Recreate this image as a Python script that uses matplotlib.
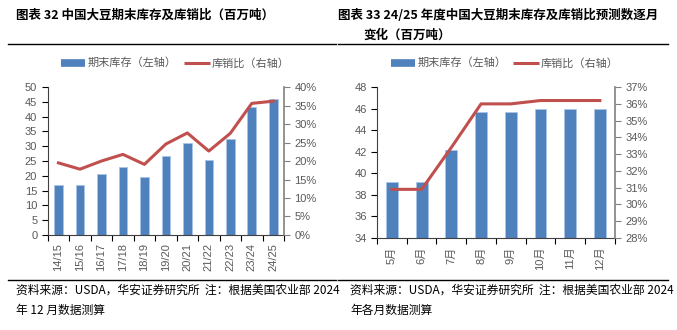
import numpy as np
import matplotlib
matplotlib.use('Agg')
import matplotlib.pyplot as plt
from matplotlib.lines import Line2D
from matplotlib.ticker import FuncFormatter

plt.rcParams['font.family'] = ['Liberation Sans', 'Noto Sans CJK SC', 'DejaVu Sans']

# 图表32：年度数据
years = ['14/15', '15/16', '16/17', '17/18', '18/19', '19/20', '20/21', '21/22', '22/23', '23/24', '24/25']
stock_year = [17.0, 16.9, 20.6, 23.0, 19.5, 26.8, 31.2, 25.2, 32.5, 43.4, 46.0]
ratio_year = [19.5, 17.8, 20.0, 21.8, 19.1, 24.6, 27.6, 22.7, 27.5, 35.6, 36.2]

# 图表33：24/25年度逐月预测
months = ['5月', '6月', '7月', '8月', '9月', '10月', '11月', '12月']
stock_month = [39.2, 39.2, 42.2, 45.7, 45.7, 46.0, 46.0, 46.0]
ratio_month = [30.9, 30.9, 33.4, 36.0, 36.0, 36.2, 36.2, 36.2]

bar_c = '#4F81BD'
line_c = '#C0504D'
gray = '#595959'
cjk = ['Noto Sans CJK SC', 'DejaVu Sans']

fig = plt.figure(figsize=(6.77, 3.30), dpi=100)


def draw(rect, cats, stock, ratio, ylim, ystep, rlim, rstep):
    ax = fig.add_axes(rect)
    x = np.arange(len(cats))
    ax.bar(x, stock, width=0.4, color=bar_c, edgecolor='#A9C4E6', linewidth=0.6, zorder=2)
    ax.set_xlim(-0.5, len(cats) - 0.5)
    ax.set_ylim(*ylim)
    ax.set_yticks(np.arange(ylim[0], ylim[1] + 0.01, ystep))
    ax.set_xticks(x)
    ax.set_xticklabels(cats, rotation=90, color=gray, fontsize=8)
    ax.set_xticks(np.arange(-0.5, len(cats)), minor=True)
    ax.tick_params(axis='x', which='major', length=0, pad=6)
    ax.tick_params(axis='x', which='minor', length=4, width=0.8, direction='out')
    ax.tick_params(axis='y', labelsize=8, labelcolor=gray, length=4, width=0.8)
    ax.spines['top'].set_visible(False)
    ax.spines['right'].set_visible(False)
    ax.spines['left'].set_color('#404040')
    ax.spines['bottom'].set_color('#404040')

    ax2 = ax.twinx()
    ax2.plot(x, ratio, color=line_c, linewidth=2.2, zorder=3)
    ax2.set_ylim(*rlim)
    ax2.set_yticks(np.arange(rlim[0], rlim[1] + 0.01, rstep))
    ax2.yaxis.set_major_formatter(FuncFormatter(lambda v, p: '%d%%' % round(v)))
    ax2.tick_params(axis='y', labelsize=8, labelcolor=gray, length=4, width=0.8, color='#808080')
    ax2.spines['top'].set_visible(False)
    ax2.spines['left'].set_visible(False)
    ax2.spines['bottom'].set_visible(False)
    ax2.spines['right'].set_color('#808080')
    ax2.spines['right'].set_linewidth(1.2)
    return ax, ax2


def legend(x0, x1):
    y = 1 - 63 / 330
    fig.add_artist(Line2D([x0 / 677, (x0 + 24) / 677], [y, y], color=bar_c, linewidth=5.5,
                          solid_capstyle='butt'))
    fig.text((x0 + 27) / 677, y, '期末库存（左轴）', family=cjk, fontsize=8, color=gray, va='center')
    fig.add_artist(Line2D([x1 / 677, (x1 + 26) / 677], [y, y], color=line_c, linewidth=2.2,
                          solid_capstyle='butt'))
    fig.text((x1 + 28) / 677, y, '库销比（右轴）', family=cjk, fontsize=8, color=gray, va='center')


def hline(y, x0, x1):
    fig.add_artist(Line2D([x0 / 677, x1 / 677], [1 - y / 330, 1 - y / 330], color='black', linewidth=1.0))


draw([0.0705, 0.288, 0.349, 0.448], years, stock_year, ratio_year, (0, 50), 5, (0, 40), 5)
draw([0.557, 0.279, 0.351, 0.457], months, stock_month, ratio_month, (34, 48), 2, (28, 37), 1)

legend(61, 184)
legend(391, 513)

# 标题
fig.text(16 / 677, 1 - 15 / 330, '图表 32 中国大豆期末库存及库销比（百万吨）', family=cjk,
         fontsize=9, fontweight='bold', va='center')
fig.text(338 / 677, 1 - 15 / 330, '图表 33 24/25 年度中国大豆期末库存及库销比预测数逐月', family=cjk,
         fontsize=9, fontweight='bold', va='center')
fig.text(363 / 677, 1 - 35 / 330, '变化（百万吨）', family=cjk,
         fontsize=9, fontweight='bold', va='center')

hline(44, 8, 336)
hline(44, 338, 668)
hline(280, 8, 336)
hline(280, 338, 668)

# 资料来源
fig.text(16 / 677, 1 - 290 / 330, '资料来源：USDA，华安证券研究所  注：根据美国农业部 2024', family=cjk,
         fontsize=8.5, va='center')
fig.text(16 / 677, 1 - 310 / 330, '年 12 月数据测算', family=cjk, fontsize=8.5, va='center')
fig.text(350 / 677, 1 - 290 / 330, '资料来源：USDA，华安证券研究所  注：根据美国农业部 2024', family=cjk,
         fontsize=8.5, va='center')
fig.text(350 / 677, 1 - 310 / 330, '年各月数据测算', family=cjk, fontsize=8.5, va='center')

fig.savefig('out.png', dpi=100)
